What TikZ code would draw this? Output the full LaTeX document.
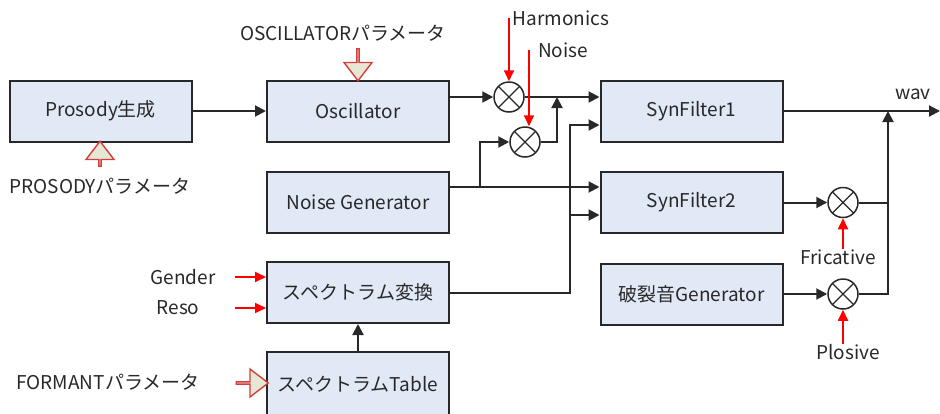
\documentclass[tikz,border=0pt]{standalone}
\usepackage{fontspec}
\setmainfont{Noto Sans CJK JP}
\usetikzlibrary{arrows.meta,shapes.arrows}
\definecolor{boxfill}{RGB}{226,233,246}
\definecolor{parfill}{RGB}{230,232,212}
\definecolor{paredge}{RGB}{214,62,62}
\definecolor{ink}{RGB}{40,40,40}

\begin{document}
\begin{tikzpicture}[x=1pt,y=-1pt,
    font=\fontsize{19}{22}\selectfont, text=ink,
    blk/.style={draw=ink, line width=2pt, fill=boxfill, minimum width=182pt, minimum height=61pt, inner sep=0pt},
    mult/.style={circle, draw=ink, line width=1.5pt, minimum size=30pt, inner sep=0pt,
        path picture={\draw[ink, line width=1.2pt] (path picture bounding box.north west) -- (path picture bounding box.south east)
            (path picture bounding box.north east) -- (path picture bounding box.south west);}},
    wire/.style={draw=ink, line width=2pt},
    sig/.style={wire, -{Triangle[length=11pt,width=11pt]}},
    ctl/.style={draw=red, line width=1.8pt, -{Triangle[length=11pt,width=10pt]}},
    param/.style={single arrow, draw=paredge, fill=parfill, line width=1.4pt, minimum height=32pt,
        minimum width=28pt, single arrow head extend=8pt, single arrow tip angle=75, inner sep=0pt},
    lbl/.style={inner sep=0pt}]
    \useasboundingbox (0,0) rectangle (940,413);

    % blocks
    \node[blk] (pros) at (100.5,111) {Prosody生成};
    \node[blk] (osc) at (358,111) {Oscillator};
    \node[blk] (noisegen) at (358,202.5) {Noise Generator};
    \node[blk] (conv) at (358,292.5) {スペクトラム変換};
    \node[blk, minimum height=64pt] (tbl) at (358,384) {スペクトラムTable};
    \node[blk] (syn1) at (691.5,111) {SynFilter1};
    \node[blk] (syn2) at (691.5,202.5) {SynFilter2};
    \node[blk] (burst) at (691.5,294) {破裂音Generator};

    % multipliers
    \node[mult] (m1) at (509,97) {};
    \node[mult] (m2) at (525,142) {};
    \node[mult] (m3) at (843,202.5) {};
    \node[mult] (m4) at (843,294) {};

    % labels
    \node[lbl] (oscpar) at (343,33) {OSCILLATORパラメータ};
    \node[lbl] (prospar) at (100,186) {PROSODYパラメータ};
    \node[lbl] (fmtpar) at (108,382) {FORMANTパラメータ};
    \node[lbl] (harm) at (561,18) {Harmonics};
    \node[lbl] (noiselbl) at (563,50) {Noise};
    \node[lbl] (wav) at (913,94) {wav};
    \node[lbl] (fric) at (838,257) {Fricative};
    \node[lbl] (plos) at (848,352) {Plosive};
    \node[lbl] (gender) at (183,277) {Gender};
    \node[lbl] (reso) at (178,308) {Reso};

    % parameter arrows
    \node[param, shape border rotate=270] (oscarr) at (358,64) {};
    \node[param, shape border rotate=90, minimum height=25pt] (prosarr) at (100,154.5) {};
    \node[param] (fmtarr) at (251.5,383) {};

    \coordinate (j1) at (557,97);
    \coordinate (b1) at (480,187);
    \coordinate (b2) at (570,125);
    \coordinate (b3) at (570,215);
    \coordinate (j2) at (888,111);
    \coordinate (out) at (940,111);

    % signal paths
    \draw[sig] (pros) -- (osc);
    \draw[sig] (osc.east |- m1) -- (m1);
    \draw[sig] (m1) -- (syn1.west |- m1);
    \draw[sig] (m2) -| (j1);
    \draw[sig] ([yshift=15.5pt]noisegen.east) -- (syn2.west |- b1);
    \draw[sig] (b1) |- (m2);
    \draw[sig] (conv) -| (b2) -- (syn1.west |- b2);
    \draw[sig] (b3) -- (syn2.west |- b3);
    \draw[sig] (tbl) -- (conv);
    \draw[sig] (syn2) -- (m3);
    \draw[sig] (burst) -- (m4);
    \draw[sig] (syn1) -- (out);
    \draw[sig] (m4) -| (j2);
    \draw[wire] (m3) -- (m3 -| j2);

    % controls
    \draw[ctl] (m1.north |- harm.west) -- (m1.north);
    \draw[ctl] ([xshift=4pt]m2.north |- noiselbl.west) -- ([xshift=4pt]m2.north);
    \draw[ctl] (m3.south |- fric.north) -- (m3.south);
    \draw[ctl] (m4.south |- plos.north) -- (m4.south);
    \draw[ctl] ([xshift=-31pt,yshift=15.5pt]conv.west) -- ([yshift=15.5pt]conv.west);
    \draw[ctl] ([xshift=-31pt,yshift=-15.5pt]conv.west) -- ([yshift=-15.5pt]conv.west);
\end{tikzpicture}
\end{document}
